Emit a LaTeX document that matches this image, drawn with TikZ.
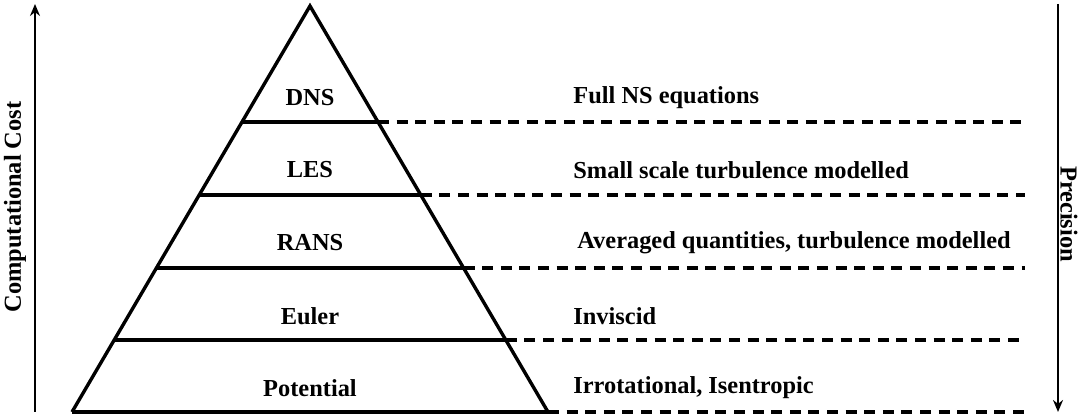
\documentclass[tikz,border=0pt]{standalone}
\usepackage{fontspec}
\setmainfont{Liberation Serif}
\usetikzlibrary{arrows.meta,calc}
\tikzset{
  layer/.style={line width=1.7pt,line join=miter},
  guide/.style={line width=1.7pt,dash pattern=on 5.5pt off 3.8pt},
  axis/.style={-{Stealth[length=6pt,width=5pt]},line width=1.4pt},
  lvl/.style={font=\bfseries\fontsize{12.2}{14}\selectfont,inner sep=0pt},
  txt/.style={lvl,anchor=west}
}
\begin{document}
\begin{tikzpicture}[x=0.5pt,y=0.5pt]
  \useasboundingbox (0,0) rectangle (1081,416);
  % pyramid corners and end of the guide lines
  \coordinate (top) at (310,410);
  \coordinate (bl)  at (72,4);
  \coordinate (br)  at (548,4);
  \coordinate (end) at (1025,4);
  \draw[layer] (bl) -- (top) -- (br);
  \draw[layer] (bl) -- (br);
  \draw[guide] (br) -- (end);
  % level separators
  \foreach \n/\t in {1/0.2857,2/0.4655,3/0.6453,4/0.8227}{%
    \coordinate (l\n) at ($(top)!\t!(bl)$);
    \coordinate (r\n) at ($(top)!\t!(br)$);
    \draw[layer] (l\n) -- (r\n);
    \draw[guide] (r\n) -- (r\n -| end);}
  % model names
  \node[lvl] (dns) at (310,318) {DNS};
  \node[lvl] (les) at (310,246) {LES};
  \node[lvl] (rans) at (310,173) {RANS};
  \node[lvl] (eul) at (310,100) {Euler};
  \node[lvl] (pot) at (310,28) {Potential};
  % descriptions
  \node[txt] (dnsd) at (573,318) {Full NS equations};
  \node[txt] (lesd) at (573,246) {Small scale turbulence modelled};
  \node[txt] (ransd) at (577,173) {Averaged quantities, turbulence modelled};
  \node[txt] (euld) at (573,100) {Inviscid};
  \node[txt] (potd) at (573,28) {Irrotational, Isentropic};
  % side arrows
  \coordinate (cb) at (35,4);
  \coordinate (ct) at (35,412);
  \coordinate (pt) at (1058,412);
  \coordinate (pb) at (1058,4);
  \draw[axis] (cb) -- (ct);
  \draw[axis] (pt) -- (pb);
  \node[lvl,rotate=90] (cost) at (15,209) {Computational Cost};
  \node[lvl,rotate=-90] (prec) at (1069,202) {Precision};
\end{tikzpicture}
\end{document}
